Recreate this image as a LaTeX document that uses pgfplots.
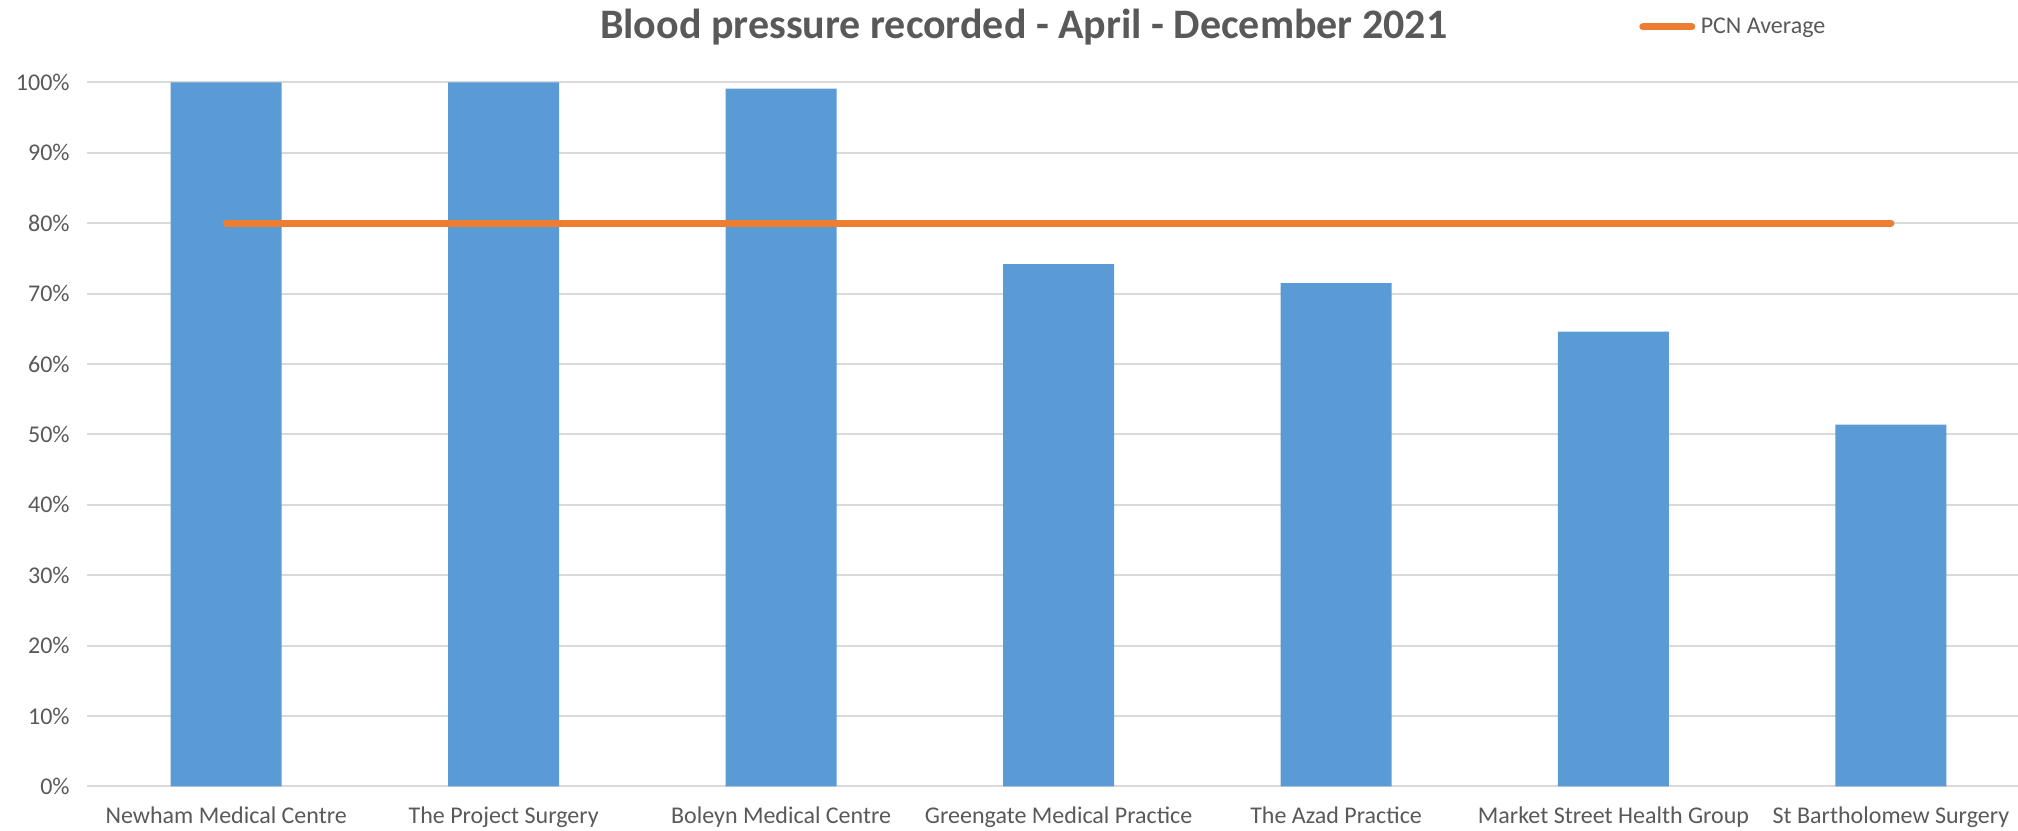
\documentclass[border=0pt]{standalone}
\usepackage{fontspec}
\setmainfont{Carlito}
\usepackage{pgfplots}
\pgfplotsset{compat=1.18}
\definecolor{barblue}{HTML}{5B9BD5}
\definecolor{pcnorange}{HTML}{ED7D31}
\definecolor{gridgray}{HTML}{D9D9D9}
\definecolor{textgray}{HTML}{595959}

\begin{document}
\begin{tikzpicture}
% page size: 2018 x 831 px at 0.5pt per px
\path[use as bounding box] (-43.75pt,-22.25pt) rectangle (965.25pt,393.2pt);
\begin{axis}[
  scale only axis,
  width=965.25pt,
  height=352pt,
  xmin=-0.5, xmax=6.458,
  ymin=0, ymax=100,
  axis line style={draw=none},
  tick style={draw=none},
  xtick={0,...,6},
  xticklabels={Newham Medical Centre, The Project Surgery, Boleyn Medical Centre,
    Greengate Medical Practice, The Azad Practice, Market Street Health Group,
    St Bartholomew Surgery},
  ytick={0,10,...,100},
  yticklabels={0\%,10\%,20\%,30\%,40\%,50\%,60\%,70\%,80\%,90\%,100\%},
  ticklabel style={font=\fontsize{12}{14}\selectfont, text=textgray, inner sep=0pt},
  xticklabel shift=10pt,
  yticklabel shift=8.75pt,
  ymajorgrids=true,
  grid style={draw=gridgray, line width=1pt},
  title={Blood pressure recorded - April - December 2021},
  title style={at={(0.485,1)}, anchor=base, yshift=16pt, inner sep=0pt,
    font=\fontsize{21}{25}\selectfont\bfseries, text=textgray},
  legend style={at={(0.802,1.0787)}, anchor=west, draw=none, fill=none,
    inner sep=0pt, outer sep=0pt,
    font=\fontsize{12}{14}\selectfont, text=textgray,
    nodes={inner sep=1pt},
    /tikz/every even column/.append style={column sep=0pt}},
  legend cell align=left,
]
\addplot[ybar, bar width=55.5pt, bar shift=0pt, fill=barblue, draw=none, forget plot]
coordinates {(0,100) (1,100) (2,99.1) (3,74.2) (4,71.5) (5,64.6) (6,51.4)};

\addplot[sharp plot, pcnorange, line width=3.5pt, line cap=round, mark=none,
  legend image code/.code={
    \path (0pt,0pt) (28pt,0pt);
    \draw[pcnorange, line width=3.5pt, line cap=round] (1.75pt,0pt) -- (26.25pt,0pt);}]
coordinates {(0,80) (1,80) (2,80) (3,80) (4,80) (5,80) (6,80)};
\addlegendentry{PCN Average}
\end{axis}
\end{tikzpicture}
\end{document}
